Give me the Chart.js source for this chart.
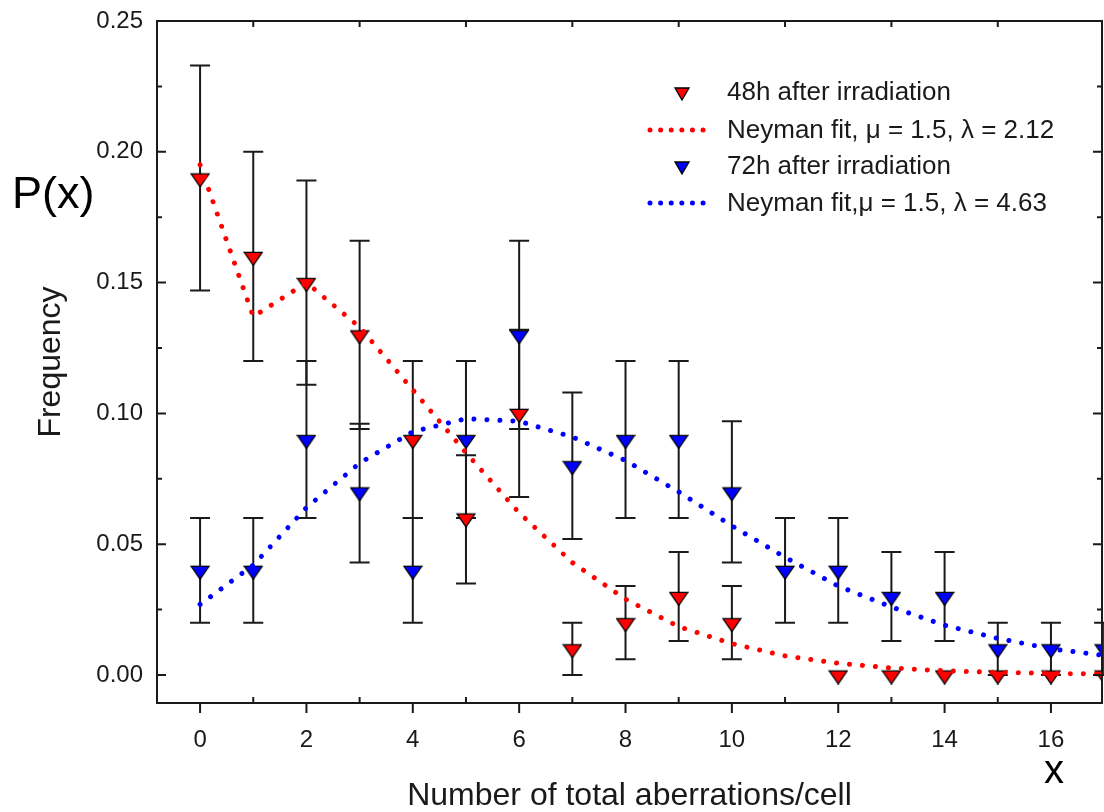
<!DOCTYPE html>
<html>
<head>
<meta charset="utf-8">
<script src="https://cdn.jsdelivr.net/npm/chart.js@4.4.1/dist/chart.umd.min.js"></script>
<style>
html, body { margin: 0; padding: 0; background: #fff; overflow: hidden; }
canvas { display: block; }
</style>
</head>
<body>
<canvas id="freqChart" width="1104" height="812"></canvas>
<script>
// aberrations per cell
const xCounts = [0, 1, 2, 3, 4, 5, 6, 7, 8, 9, 10, 11, 12, 13, 14, 15, 16, 17];
const xTickValues = [0, 2, 4, 6, 8, 10, 12, 14, 16];
const yTickValues = [0, 0.05, 0.10, 0.15, 0.20, 0.25];

// 48h after irradiation
const freq48 = [0.19, 0.16, 0.15, 0.13, 0.09, 0.06, 0.10, 0.01, 0.02, 0.03, 0.02, null, 0, 0, 0, 0, 0, 0];
const err48Low = [0.147, 0.12, 0.111, 0.094, 0.06, 0.035, 0.068, 0.0, 0.006, 0.013, 0.006, null, null, null, null, null, null, null];
const err48High = [0.233, 0.20, 0.189, 0.166, 0.12, 0.084, 0.132, 0.02, 0.034, 0.047, 0.034, null, null, null, null, null, null, null];
const fit48 = [0.195, 0.137, 0.150, 0.133, 0.109, 0.085, 0.062, 0.043, 0.029, 0.0185, 0.012, 0.0073, 0.0045, 0.0027, 0.0016, 0.001, 0.0006, 0.0004];

// 72h after irradiation
const freq72 = [0.04, 0.04, 0.09, 0.07, 0.04, 0.09, 0.13, 0.08, 0.09, 0.09, 0.07, 0.04, 0.04, 0.03, 0.03, 0.01, 0.01, 0.01];
const err72Low = [0.02, 0.02, 0.06, 0.043, 0.02, 0.06, 0.094, 0.052, 0.06, 0.06, 0.043, 0.02, 0.02, 0.013, 0.013, 0.0, 0.0, 0.0];
const err72High = [0.06, 0.06, 0.12, 0.096, 0.06, 0.12, 0.166, 0.108, 0.12, 0.12, 0.097, 0.06, 0.06, 0.047, 0.047, 0.02, 0.02, 0.02];
const fit72 = [0.027, 0.042, 0.064, 0.081, 0.093, 0.098, 0.097, 0.091, 0.082, 0.070, 0.057, 0.045, 0.034, 0.026, 0.019, 0.014, 0.010, 0.0075];

const labels = ['48h after irradiation', 'Neyman fit, \u03bc = 1.5, \u03bb = 2.12', '72h after irradiation', 'Neyman fit,\u03bc = 1.5, \u03bb = 4.63'];

const FONT = '"Liberation Sans", Arial, Helvetica, sans-serif';
const INK = '#1a1a1a';

function pairs(vals) {
    return xCounts.map((x, i) => ({ x: x, y: vals[i] })).filter(p => p.y !== null);
}

// downward triangle with its centroid at the image centre
function makeTriangle(fill, w, h) {
    const y0 = h / 3 + 1;
    const c = document.createElement('canvas');
    c.width = Math.ceil(w + 2);
    c.height = Math.round(2 * (y0 + h / 3));
    const g = c.getContext('2d');
    const cx = c.width / 2;
    g.beginPath();
    g.moveTo(cx - w / 2, y0);
    g.lineTo(cx + w / 2, y0);
    g.lineTo(cx, y0 + h);
    g.closePath();
    g.fillStyle = fill;
    g.fill();
    g.lineWidth = 1.3;
    g.strokeStyle = '#000';
    g.stroke();
    return c;
}

const triRed = makeTriangle('#ff0000', 18, 13);
const triBlue = makeTriangle('#0000ff', 18, 13);
const triRedSmall = makeTriangle('#ff0000', 14, 12);
const triBlueSmall = makeTriangle('#0000ff', 14, 12);

const errorBars = {
    id: 'errorBars',
    beforeDatasetsDraw(chart) {
        const { ctx, scales: { x, y } } = chart;
        ctx.save();
        ctx.strokeStyle = INK;
        ctx.lineWidth = 2;
        chart.data.datasets.forEach(ds => {
            if (!ds.errLow) return;
            xCounts.forEach((xv, i) => {
                const lo = ds.errLow[i], hi = ds.errHigh[i];
                if (lo == null || hi == null) return;
                const px = x.getPixelForValue(xv);
                const p1 = y.getPixelForValue(lo);
                const p2 = y.getPixelForValue(hi);
                ctx.beginPath();
                ctx.moveTo(px, p1); ctx.lineTo(px, p2);
                ctx.moveTo(px - 10, p1); ctx.lineTo(px + 10, p1);
                ctx.moveTo(px - 10, p2); ctx.lineTo(px + 10, p2);
                ctx.stroke();
            });
        });
        ctx.restore();
    }
};

const frameTicks = {
    id: 'frameTicks',
    afterDraw(chart) {
        const { ctx, chartArea: a, scales: { x, y } } = chart;
        ctx.save();
        ctx.strokeStyle = INK;
        ctx.lineWidth = 2;
        ctx.strokeRect(a.left, a.top, a.right - a.left, a.bottom - a.top);
        ctx.beginPath();
        xTickValues.forEach((v, i) => {
            const px = x.getPixelForValue(v);
            ctx.moveTo(px, a.bottom); ctx.lineTo(px, a.bottom + 10);
            if (i < xTickValues.length - 1) {
                const pm = x.getPixelForValue((v + xTickValues[i + 1]) / 2);
                ctx.moveTo(pm, a.bottom); ctx.lineTo(pm, a.bottom - 6);
                ctx.moveTo(pm, a.top); ctx.lineTo(pm, a.top + 6);
            }
        });
        yTickValues.forEach((v, i) => {
            const py = y.getPixelForValue(v);
            ctx.moveTo(a.left, py); ctx.lineTo(a.left + 9, py);
            ctx.moveTo(a.right, py); ctx.lineTo(a.right - 9, py);
            if (i < yTickValues.length - 1) {
                const pm = y.getPixelForValue((v + yTickValues[i + 1]) / 2);
                ctx.moveTo(a.left, pm); ctx.lineTo(a.left + 5, pm);
                ctx.moveTo(a.right, pm); ctx.lineTo(a.right - 5, pm);
            }
        });
        ctx.stroke();
        ctx.restore();
    }
};

const legendBox = {
    id: 'legendBox',
    afterDraw(chart) {
        const ctx = chart.ctx;
        const rows = [92, 130, 166, 203];
        const marks = [triRedSmall, '#ff0000', triBlueSmall, '#0000ff'];
        ctx.save();
        ctx.font = '26px ' + FONT;
        ctx.fillStyle = INK;
        ctx.textBaseline = 'middle';
        ctx.textAlign = 'left';
        rows.forEach((ry, i) => {
            const m = marks[i];
            if (typeof m === 'string') {
                ctx.save();
                ctx.strokeStyle = m;
                ctx.lineWidth = 5;
                ctx.lineCap = 'round';
                ctx.setLineDash([0.01, 10.6]);
                ctx.beginPath();
                ctx.moveTo(650, ry); ctx.lineTo(704, ry);
                ctx.stroke();
                ctx.restore();
            } else {
                ctx.drawImage(m, 682 - m.width / 2, ry - m.height / 2);
            }
            ctx.fillText(labels[i], 727, ry + 1);
        });
        // axis symbols
        ctx.textBaseline = 'alphabetic';
        ctx.fillStyle = '#000';
        ctx.font = '45px ' + FONT;
        ctx.fillText('P(x)', 12, 208);
        ctx.textAlign = 'center';
        ctx.font = '40px ' + FONT;
        ctx.fillText('x', 1054, 783);
        ctx.restore();
    }
};

function noPad(s) {
    s.paddingLeft = 0;
    s.paddingRight = 0;
    s.paddingTop = 0;
    s.paddingBottom = 0;
}

const ctx = document.getElementById('freqChart').getContext('2d');
new Chart(ctx, {
    type: 'line',
    data: {
        datasets: [{
            label: labels[0],
            data: pairs(freq48),
            errLow: err48Low,
            errHigh: err48High,
            showLine: false,
            pointStyle: triRed,
            pointRadius: 9,
            order: 2
        }, {
            label: labels[1],
            data: pairs(fit48),
            borderColor: '#ff0000',
            borderWidth: 5,
            borderDash: [0.01, 13],
            borderCapStyle: 'round',
            pointRadius: 0,
            tension: 0,
            fill: false,
            order: 1
        }, {
            label: labels[2],
            data: pairs(freq72),
            errLow: err72Low,
            errHigh: err72High,
            showLine: false,
            pointStyle: triBlue,
            pointRadius: 9,
            order: 3
        }, {
            label: labels[3],
            data: pairs(fit72),
            borderColor: '#0000ff',
            borderWidth: 5,
            borderDash: [0.01, 13],
            borderCapStyle: 'round',
            pointRadius: 0,
            tension: 0,
            fill: false,
            order: 0
        }]
    },
    options: {
        responsive: false,
        animation: false,
        devicePixelRatio: 1,
        layout: { autoPadding: false, padding: { top: 21, right: 2, left: 0, bottom: 0 } },
        plugins: {
            legend: { display: false },
            tooltip: { enabled: false }
        },
        scales: {
            x: {
                type: 'linear',
                bounds: 'data',
                min: -0.81,
                max: 16.96,
                afterBuildTicks: s => { s.ticks = xTickValues.map(v => ({ value: v })); },
                afterFit: s => { s.height = 109; noPad(s); },
                grid: { display: false, drawTicks: false },
                border: { display: false },
                ticks: {
                    padding: 23,
                    color: INK,
                    font: { family: FONT, size: 24 },
                    maxRotation: 0,
                    callback: v => String(v)
                },
                title: {
                    display: true,
                    text: 'Number of total aberrations/cell',
                    color: INK,
                    font: { family: FONT, size: 32, lineHeight: 1 },
                    padding: { top: 0, bottom: 0 }
                }
            },
            y: {
                type: 'linear',
                bounds: 'data',
                min: -0.0107,
                max: 0.25,
                afterBuildTicks: s => { s.ticks = yTickValues.map(v => ({ value: v })); },
                afterFit: s => { s.width = 157; noPad(s); },
                grid: { display: false, drawTicks: false },
                border: { display: false },
                ticks: {
                    padding: 14,
                    color: INK,
                    font: { family: FONT, size: 24 },
                    callback: v => v.toFixed(2)
                },
                title: {
                    display: true,
                    text: 'Frequency',
                    color: INK,
                    font: { family: FONT, size: 32, lineHeight: 1 },
                    padding: { top: 35, bottom: 0 }
                }
            }
        }
    },
    plugins: [errorBars, frameTicks, legendBox]
});
</script>
</body>
</html>
